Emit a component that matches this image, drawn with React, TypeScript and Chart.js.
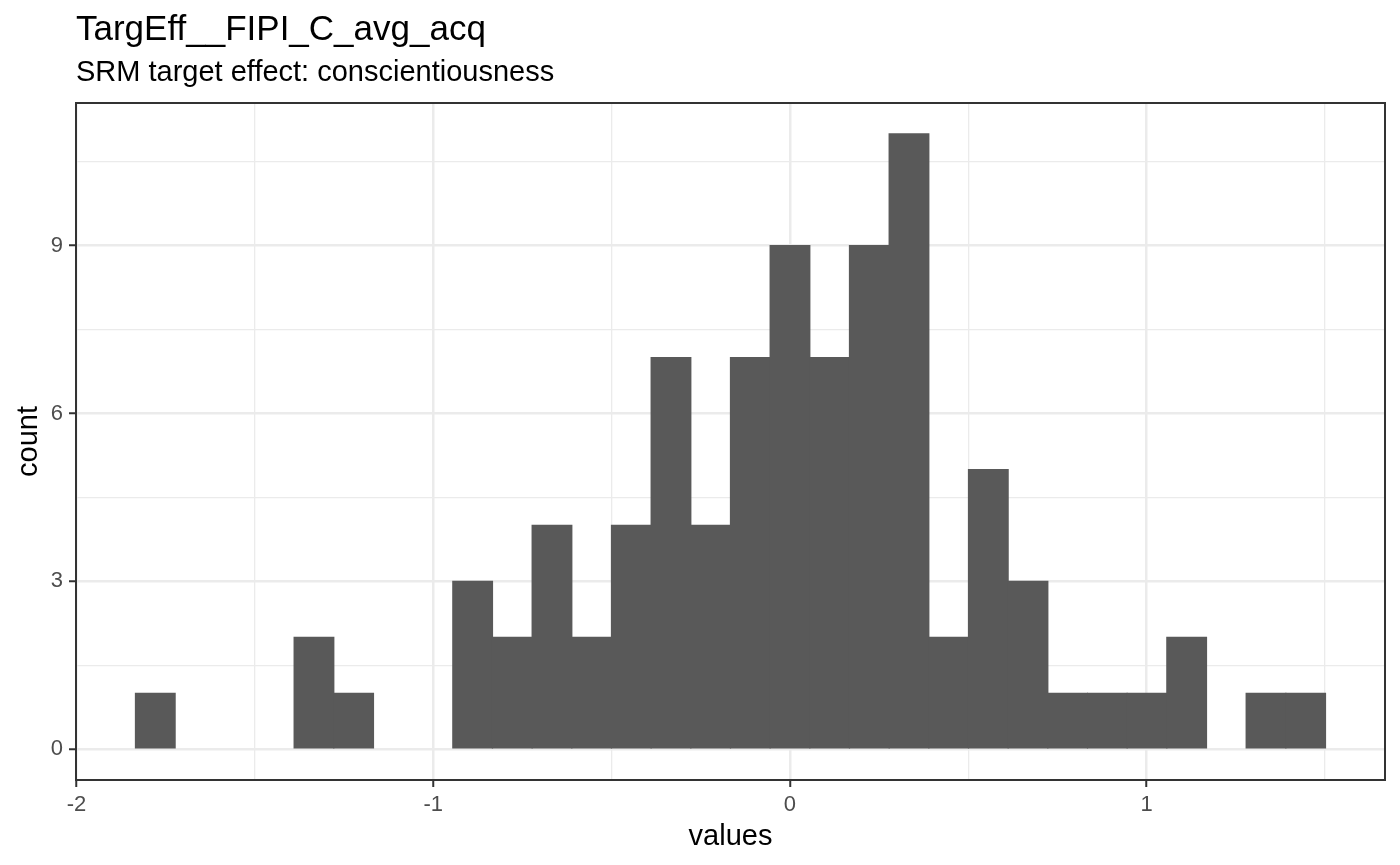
import React, { useEffect, useRef } from "react";
import { Chart, registerables } from "chart.js";

Chart.register(...registerables);

const TITLE = "TargEff__FIPI_C_avg_acq";
const SUBTITLE = "SRM target effect: conscientiousness";
const X_LABEL = "values";
const Y_LABEL = "count";

// histogram bin centres (30 bins, width ~0.1112)
const binCenters = [
  -1.7792, -1.668, -1.5568, -1.4456, -1.3344, -1.2232, -1.112, -1.0008,
  -0.8896, -0.7784, -0.6672, -0.556, -0.4448, -0.3336, -0.2224, -0.1112,
  0, 0.1112, 0.2224, 0.3336, 0.4448, 0.556, 0.6672, 0.7784, 0.8896,
  1.0008, 1.112, 1.2232, 1.3344, 1.4456,
];
const binCounts = [
  1, 0, 0, 0, 2, 1, 0, 0, 3, 2, 4, 2, 4, 7, 4, 7, 9, 7, 9, 11, 2, 5, 3, 1,
  1, 1, 2, 0, 1, 1,
];

const xGridValues = [-2, -1.5, -1, -0.5, 0, 0.5, 1, 1.5];
const xTickLabels = ["-2", "", "-1", "", "0", "", "1", ""];
const yGridValues = [0, 1.5, 3, 4.5, 6, 7.5, 9, 10.5];
const yTickLabels = ["0", "", "3", "", "6", "", "9", ""];

const X_MIN = -2.0015;
const X_MAX = 1.668;
const Y_MIN = -0.55;
const Y_MAX = 11.55;

const FONT = "'Liberation Sans', Arial, Helvetica, sans-serif";
const GRID = "#EBEBEB";
const DARK = "#333333";
const TICK_TEXT = "#4D4D4D";
const BAR = "#595959";

const ggPlugin = {
  id: "ggDecor",
  afterDraw(chart: any) {
    const { ctx, chartArea } = chart;
    ctx.save();
    ctx.strokeStyle = DARK;
    ctx.lineWidth = 2;
    ctx.strokeRect(
      chartArea.left,
      chartArea.top,
      chartArea.right - chartArea.left,
      chartArea.bottom - chartArea.top
    );
    ctx.fillStyle = "#000000";
    ctx.textAlign = "left";
    ctx.textBaseline = "alphabetic";
    ctx.font = `35px ${FONT}`;
    ctx.fillText(TITLE, chartArea.left, 40);
    ctx.font = `29px ${FONT}`;
    ctx.fillText(SUBTITLE, chartArea.left, 81);
    ctx.restore();
  },
};

export default function App() {
  const ref = useRef<HTMLCanvasElement | null>(null);

  useEffect(() => {
    if (!ref.current) return;
    const chart = new Chart(ref.current, {
      type: "bar",
      data: {
        datasets: [
          {
            data: binCenters.map((x, i) => ({ x, y: binCounts[i] })),
            backgroundColor: (c: any) =>
              c.raw && c.raw.y > 0 ? BAR : "rgba(0,0,0,0)",
            borderWidth: 0,
            inflateAmount: 0.6,
            barPercentage: 1,
            categoryPercentage: 1,
          },
        ],
      },
      options: {
        animation: false,
        responsive: false,
        devicePixelRatio: 1,
        layout: { padding: { top: 103, right: 15, left: 0, bottom: 0 } },
        plugins: {
          legend: { display: false },
          tooltip: { enabled: false },
          title: { display: false },
        },
        scales: {
          x: {
            type: "linear",
            min: X_MIN,
            max: X_MAX,
            offset: false,
            afterBuildTicks: (s: any) => {
              s.ticks = xGridValues.map((v) => ({ value: v }));
            },
            afterFit: (s: any) => {
              s.height = 85;
            },
            border: { display: false },
            grid: {
              offset: false,
              color: GRID,
              lineWidth: (c: any) => (xTickLabels[c.index] ? 2.5 : 1.3),
              drawTicks: true,
              tickLength: 7,
              tickWidth: 2,
              tickColor: (c: any) =>
                xTickLabels[c.index] ? DARK : "rgba(0,0,0,0)",
            },
            ticks: {
              autoSkip: false,
              maxRotation: 0,
              padding: 5,
              color: TICK_TEXT,
              font: { family: FONT, size: 22 },
              callback: (_v: any, i: number) => xTickLabels[i],
            },
            title: {
              display: true,
              text: X_LABEL,
              color: "#000000",
              font: { family: FONT, size: 29 },
              padding: { top: 0, bottom: 11 },
            },
          },
          y: {
            type: "linear",
            min: Y_MIN,
            max: Y_MAX,
            afterBuildTicks: (s: any) => {
              s.ticks = yGridValues.map((v) => ({ value: v }));
            },
            afterFit: (s: any) => {
              s.width = 76;
            },
            border: { display: false },
            grid: {
              color: GRID,
              lineWidth: (c: any) => (yTickLabels[c.index] ? 2.5 : 1.3),
              drawTicks: true,
              tickLength: 7,
              tickWidth: 2,
              tickColor: (c: any) =>
                yTickLabels[c.index] ? DARK : "rgba(0,0,0,0)",
            },
            ticks: {
              autoSkip: false,
              padding: 6,
              color: TICK_TEXT,
              font: { family: FONT, size: 22 },
              callback: (_v: any, i: number) => yTickLabels[i],
            },
            title: {
              display: true,
              text: Y_LABEL,
              color: "#000000",
              font: { family: FONT, size: 29 },
              padding: { top: 12, bottom: 0 },
            },
          },
        },
      },
      plugins: [ggPlugin],
    } as any);
    return () => chart.destroy();
  }, []);

  return (
    <div style={{ position: "fixed", left: 0, top: 0, width: 1400, height: 865, background: "#ffffff" }}>
      <canvas ref={ref} width={1400} height={865} style={{ width: 1400, height: 865, display: "block" }} />
    </div>
  );
}
